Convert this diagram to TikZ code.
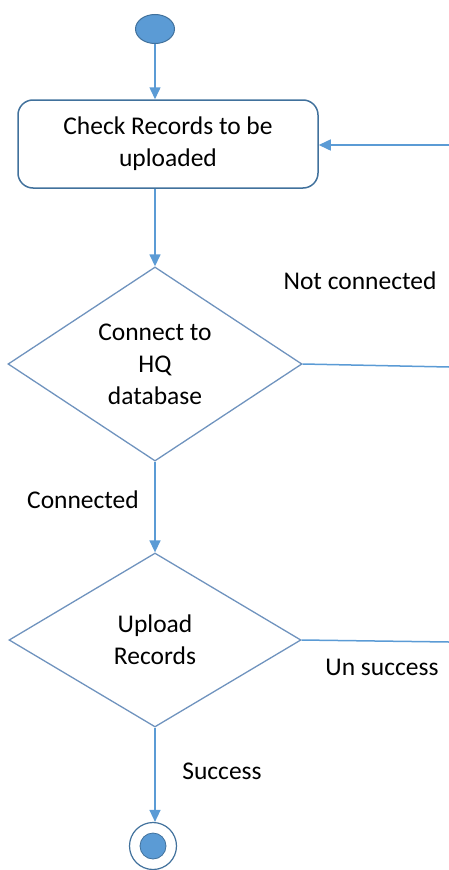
\documentclass[tikz,border=0pt]{standalone}
\usepackage{fontspec}
\setmainfont{Carlito}
\usetikzlibrary{shapes.geometric,arrows.meta}
\definecolor{flowblue}{HTML}{5B9BD5}
\definecolor{edgeblue}{HTML}{41719C}
\definecolor{diamblue}{HTML}{6F93BE}
\tikzset{
  flowline/.style={draw=flowblue,line width=1.5pt},
  flowarrow/.style={flowline,-{Triangle[length=12pt,width=11pt]}},
  actbox/.style={draw=edgeblue,line width=1.5pt,rounded corners=15pt,
    minimum width=300pt,minimum height=88pt,align=center,inner sep=0pt},
  choice/.style={diamond,draw=diamblue,line width=1.3pt,align=center,inner sep=0pt},
  lbl/.style={inner sep=0pt,anchor=center},
}
\begin{document}
\begin{tikzpicture}[x=1pt,y=-1pt,font=\fontsize{25.5}{32}\selectfont]
\useasboundingbox (0,0) rectangle (449,870);
% start node
\node[ellipse,fill=flowblue,draw=edgeblue,line width=1pt,
      minimum width=39pt,minimum height=29pt,inner sep=0pt] (start) at (155,29) {};
% activity
\node[actbox] (check) at (168,144) {Check Records to be\\uploaded};
% decisions
\node[choice,minimum width=294pt,minimum height=183pt] (conn) at (155,364) {Connect to\\HQ\\database};
\node[choice,minimum width=292pt,minimum height=174pt] (upload) at (155,640) {Upload\\Records};
% final node
\node[circle,draw=edgeblue,fill=white,line width=1.2pt,minimum size=47pt,inner sep=0pt] (final) at (153,846) {};
\node[circle,fill=flowblue,draw=edgeblue,line width=0.8pt,minimum size=26pt,inner sep=0pt] (finaldot) at (final.center) {};
% loose ends at the right border
\coordinate (retA) at (449,145);
\coordinate (retB) at (449,367);
\coordinate (retC) at (449,642);
% connectors
\draw[flowarrow] (start.south) -- (start.south |- check.north);
\draw[flowarrow] (check.south -| conn.north) -- (conn.north);
\draw[flowarrow] (conn.south) -- (upload.north);
\draw[flowarrow] (upload.south) -- (upload.south |- final.north);
\draw[flowline] (conn.east) -- (retB);
\draw[flowline] (upload.east) -- (retC);
\draw[flowarrow] (retA) -- (check.east |- retA);
% guard labels
\node[lbl] (lnot) at (360,281) {Not connected};
\node[lbl] (lcon) at (83,500) {Connected};
\node[lbl] (lfail) at (382,667) {Un success};
\node[lbl] (lok) at (222,771) {Success};
\end{tikzpicture}
\end{document}
